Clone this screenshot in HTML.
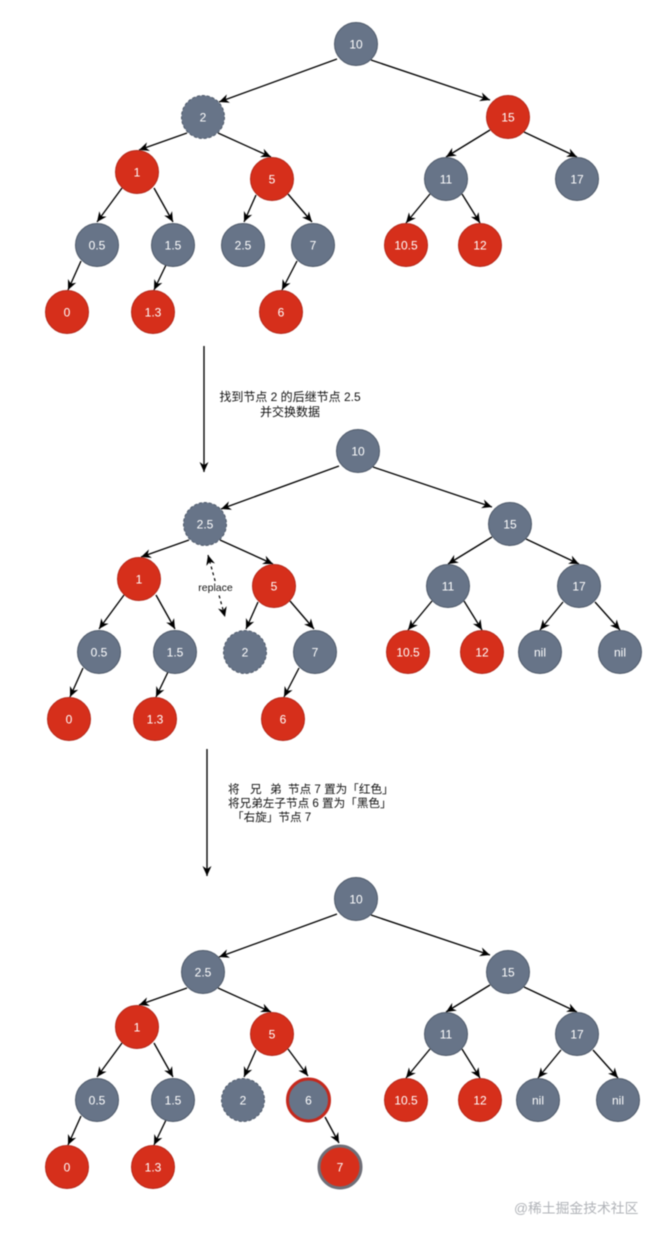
<!DOCTYPE html>
<html><head><meta charset="utf-8"><style>
html,body{margin:0;padding:0;background:#fff}
svg{display:block;filter:blur(.45px)}
text{font-family:"Liberation Sans","Noto Sans CJK SC",sans-serif}
.n text{fill:#fff;font-size:12px;text-anchor:middle}
.g{fill:#677488;stroke:#4f5a6a;stroke-width:1}
.r{fill:#d62f1b;stroke:#b5281a;stroke-width:1}
.d{stroke-dasharray:3 2}
.e line{stroke:#000;stroke-width:1.35;marker-end:url(#a)}
.l{font-size:12px;fill:#111}
.m{font-size:11.6px;fill:#111}
</style></head><body>
<svg width="659" height="1237" viewBox="0 0 659 1237" xmlns="http://www.w3.org/2000/svg">
<defs>
<marker id="a" markerUnits="userSpaceOnUse" markerWidth="12" markerHeight="12" refX="10" refY="6" orient="auto"><path d="M0,1.5 L10,6 L0,10.500 L3,6 Z" fill="#000"/></marker>
<marker id="s" markerUnits="userSpaceOnUse" markerWidth="12" markerHeight="12" refX="2" refY="6" orient="auto"><path d="M12,1.5 L2,6 L12,10.500 L9,6 Z" fill="#000"/></marker>
</defs>
<rect width="659" height="1237" fill="#fff"/>

<!-- Tree 1 -->
<g>
<g class="e">
<line x1="337" y1="59" x2="219" y2="102"/><line x1="371" y1="60" x2="490" y2="100"/>
<line x1="187" y1="133" x2="139" y2="150"/><line x1="218" y1="133" x2="271" y2="157"/>
<line x1="490" y1="130" x2="446" y2="157"/><line x1="524" y1="132" x2="577" y2="157"/>
<line x1="122" y1="188" x2="97" y2="222"/><line x1="154" y1="188" x2="173" y2="222"/>
<line x1="256" y1="195" x2="244" y2="222"/><line x1="288" y1="194" x2="312" y2="222"/>
<line x1="430" y1="194" x2="406" y2="223"/><line x1="462" y1="194" x2="480" y2="223"/>
<line x1="81" y1="261" x2="68" y2="290"/><line x1="166" y1="265" x2="154" y2="290"/><line x1="297" y1="261" x2="282" y2="290"/>
</g>
<g class="n">
<circle class="g" cx="356" cy="44" r="21.5"/><text x="356" y="48.5">10</text>
<circle class="g d" cx="203" cy="117" r="21.5"/><text x="203" y="121.5">2</text>
<circle class="r" cx="508" cy="117" r="21.5"/><text x="508" y="121.5">15</text>
<circle class="r" cx="137" cy="172" r="21.5"/><text x="137" y="176.5">1</text>
<circle class="r" cx="272" cy="179" r="21.5"/><text x="272" y="183.5">5</text>
<circle class="g" cx="446" cy="179" r="21.5"/><text x="446" y="183.5">11</text>
<circle class="g" cx="577" cy="179" r="21.5"/><text x="577" y="183.5">17</text>
<circle class="g" cx="97" cy="245" r="21.5"/><text x="97" y="249.5">0.5</text>
<circle class="g" cx="173" cy="245" r="21.5"/><text x="173" y="249.5">1.5</text>
<circle class="g" cx="243" cy="245" r="21.5"/><text x="243" y="249.5">2.5</text>
<circle class="g" cx="313" cy="245" r="21.5"/><text x="313" y="249.5">7</text>
<circle class="r" cx="406" cy="245" r="21.5"/><text x="406" y="249.5">10.5</text>
<circle class="r" cx="480" cy="245" r="21.5"/><text x="480" y="249.5">12</text>
<circle class="r" cx="67" cy="312" r="21.5"/><text x="67" y="316.5">0</text>
<circle class="r" cx="153" cy="312" r="21.5"/><text x="153" y="316.5">1.3</text>
<circle class="r" cx="281" cy="312" r="21.5"/><text x="281" y="316.5">6</text>
</g>
</g>

<g class="e"><line x1="204" y1="346" x2="204" y2="472"/></g>
<text class="l" x="290" y="401" text-anchor="middle">找到节点 2 的后继节点 2.5</text>
<text class="l" x="290" y="416" text-anchor="middle">并交换数据</text>

<!-- Tree 2 -->
<g transform="translate(2,407)">
<g class="e">
<line x1="337" y1="59" x2="219" y2="102"/><line x1="371" y1="60" x2="490" y2="100"/>
<line x1="187" y1="133" x2="139" y2="150"/><line x1="218" y1="133" x2="271" y2="157"/>
<line x1="490" y1="130" x2="446" y2="157"/><line x1="524" y1="132" x2="577" y2="157"/>
<line x1="122" y1="188" x2="97" y2="222"/><line x1="154" y1="188" x2="173" y2="222"/>
<line x1="256" y1="195" x2="244" y2="222"/><line x1="288" y1="194" x2="312" y2="222"/>
<line x1="430" y1="194" x2="406" y2="223"/><line x1="462" y1="194" x2="480" y2="223"/>
<line x1="561" y1="195" x2="538" y2="223"/><line x1="593" y1="195" x2="618" y2="223"/>
<line x1="81" y1="261" x2="68" y2="290"/><line x1="166" y1="265" x2="154" y2="290"/><line x1="297" y1="261" x2="282" y2="290"/>
</g>
<g class="n">
<circle class="g" cx="356" cy="44" r="21.5"/><text x="356" y="48.5">10</text>
<circle class="g d" cx="203" cy="117" r="21.5"/><text x="203" y="121.5">2.5</text>
<circle class="g" cx="508" cy="117" r="21.5"/><text x="508" y="121.5">15</text>
<circle class="r" cx="137" cy="172" r="21.5"/><text x="137" y="176.5">1</text>
<circle class="r" cx="272" cy="179" r="21.5"/><text x="272" y="183.5">5</text>
<circle class="g" cx="446" cy="179" r="21.5"/><text x="446" y="183.5">11</text>
<circle class="g" cx="577" cy="179" r="21.5"/><text x="577" y="183.5">17</text>
<circle class="g" cx="97" cy="245" r="21.5"/><text x="97" y="249.5">0.5</text>
<circle class="g" cx="173" cy="245" r="21.5"/><text x="173" y="249.5">1.5</text>
<circle class="g d" cx="243" cy="245" r="21.5"/><text x="243" y="249.5">2</text>
<circle class="g" cx="313" cy="245" r="21.5"/><text x="313" y="249.5">7</text>
<circle class="r" cx="406" cy="245" r="21.5"/><text x="406" y="249.5">10.5</text>
<circle class="r" cx="480" cy="245" r="21.5"/><text x="480" y="249.5">12</text>
<circle class="g" cx="538" cy="245" r="21.5"/><text x="538" y="249.5">nil</text>
<circle class="g" cx="618" cy="245" r="21.5"/><text x="618" y="249.5">nil</text>
<circle class="r" cx="67" cy="312" r="21.5"/><text x="67" y="316.5">0</text>
<circle class="r" cx="153" cy="312" r="21.5"/><text x="153" y="316.5">1.3</text>
<circle class="r" cx="281" cy="312" r="21.5"/><text x="281" y="316.5">6</text>
</g>
</g>

<line x1="208" y1="555" x2="225" y2="617" stroke="#000" stroke-width="1.2" stroke-dasharray="3 3" marker-start="url(#s)" marker-end="url(#a)"/>
<rect x="197" y="581" width="37" height="13" fill="#fff"/>
<text x="215.500" y="591" font-size="10.500" fill="#111" text-anchor="middle">replace</text>

<g class="e"><line x1="207" y1="749" x2="207" y2="876"/></g>
<text class="m" y="793"><tspan x="228">将</tspan><tspan x="250">兄</tspan><tspan x="270">弟</tspan><tspan x="288">节点 7 置为「红色」</tspan></text>
<text class="m" x="228" y="807">将兄弟左子节点 6 置为「黑色」</text>
<text class="m" x="232" y="821">「右旋」节点 7</text>

<!-- Tree 3 -->
<g transform="translate(0,855)">
<g class="e">
<line x1="337" y1="59" x2="219" y2="102"/><line x1="371" y1="60" x2="490" y2="100"/>
<line x1="187" y1="133" x2="139" y2="150"/><line x1="218" y1="133" x2="271" y2="157"/>
<line x1="490" y1="130" x2="446" y2="157"/><line x1="524" y1="132" x2="577" y2="157"/>
<line x1="122" y1="188" x2="97" y2="222"/><line x1="154" y1="188" x2="173" y2="222"/>
<line x1="256" y1="195" x2="244" y2="222"/><line x1="288" y1="194" x2="308" y2="221"/>
<line x1="430" y1="194" x2="406" y2="223"/><line x1="462" y1="194" x2="480" y2="223"/>
<line x1="561" y1="195" x2="538" y2="223"/><line x1="593" y1="195" x2="618" y2="223"/>
<line x1="81" y1="261" x2="68" y2="290"/><line x1="166" y1="265" x2="154" y2="290"/><line x1="325" y1="262" x2="339" y2="288"/>
</g>
<g class="n">
<circle class="g" cx="356" cy="44" r="21.5"/><text x="356" y="48.5">10</text>
<circle class="g" cx="203" cy="117" r="21.5"/><text x="203" y="121.5">2.5</text>
<circle class="g" cx="508" cy="117" r="21.5"/><text x="508" y="121.5">15</text>
<circle class="r" cx="137" cy="172" r="21.5"/><text x="137" y="176.5">1</text>
<circle class="r" cx="272" cy="179" r="21.5"/><text x="272" y="183.5">5</text>
<circle class="g" cx="446" cy="179" r="21.5"/><text x="446" y="183.5">11</text>
<circle class="g" cx="577" cy="179" r="21.5"/><text x="577" y="183.5">17</text>
<circle class="g" cx="97" cy="245" r="21.5"/><text x="97" y="249.5">0.5</text>
<circle class="g" cx="173" cy="245" r="21.5"/><text x="173" y="249.5">1.5</text>
<circle class="g d" cx="243" cy="245" r="21.5"/><text x="243" y="249.5">2</text>
<circle cx="308.500" cy="245" r="21" fill="#677488" stroke="#c5281c" stroke-width="3"/><text x="308.500" y="249.5">6</text>
<circle class="r" cx="406" cy="245" r="21.5"/><text x="406" y="249.5">10.5</text>
<circle class="r" cx="480" cy="245" r="21.5"/><text x="480" y="249.5">12</text>
<circle class="g" cx="538" cy="245" r="21.5"/><text x="538" y="249.5">nil</text>
<circle class="g" cx="618" cy="245" r="21.5"/><text x="618" y="249.5">nil</text>
<circle class="r" cx="67" cy="312" r="21.5"/><text x="67" y="316.5">0</text>
<circle class="r" cx="153" cy="312" r="21.5"/><text x="153" y="316.5">1.3</text>
<circle cx="340" cy="312" r="21" fill="#d62f1b" stroke="#6f6f78" stroke-width="3"/><text x="340" y="316.5">7</text>
</g>
</g>

<text x="514" y="1213" font-size="13.800" fill="#b0b3b8">@稀土掘金技术社区</text>
</svg>
</body></html>
